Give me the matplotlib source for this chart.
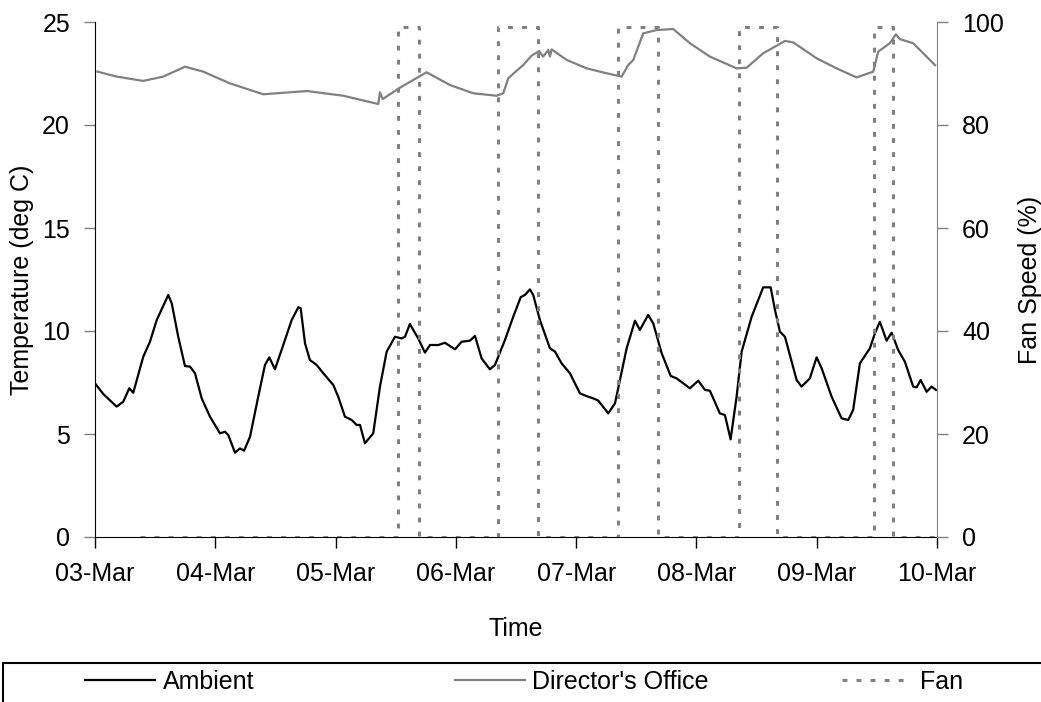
import matplotlib
matplotlib.use("Agg")
import matplotlib.pyplot as plt
from matplotlib.patches import Rectangle

plt.rcParams.update({
    "font.family": ["Liberation Sans", "DejaVu Sans"],
    "font.size": 18,
})

GREY = "#808080"

# time in days after 03-Mar 00:00
amb_t = [0.000, 0.069, 0.180, 0.235, 0.285, 0.318, 0.401, 0.457, 0.513, 0.609,
         0.638, 0.692, 0.748, 0.790, 0.831, 0.887, 0.956, 1.039, 1.081, 1.108,
         1.164, 1.205, 1.239, 1.289, 1.357, 1.413, 1.449, 1.496, 1.565, 1.635,
         1.690, 1.710, 1.746, 1.787, 1.843, 1.898, 1.981, 2.022, 2.078, 2.134,
         2.175, 2.203, 2.244, 2.313, 2.369, 2.425, 2.494, 2.549, 2.577, 2.618,
         2.646, 2.687, 2.743, 2.785, 2.854, 2.909, 2.993, 3.048, 3.117, 3.159,
         3.214, 3.283, 3.325, 3.408, 3.477, 3.539, 3.574, 3.616, 3.643, 3.699,
         3.782, 3.824, 3.879, 3.948, 4.032, 4.087, 4.142, 4.184, 4.267, 4.323,
         4.420, 4.489, 4.530, 4.599, 4.641, 4.711, 4.786, 4.835, 4.946, 5.015,
         5.071, 5.112, 5.195, 5.237, 5.284, 5.334, 5.376, 5.459, 5.555, 5.617,
         5.653, 5.694, 5.736, 5.777, 5.833, 5.874, 5.943, 5.999, 6.041, 6.124,
         6.207, 6.262, 6.303, 6.359, 6.442, 6.484, 6.525, 6.581, 6.623, 6.677,
         6.733, 6.802, 6.831, 6.864, 6.914, 6.955, 6.991]
amb_temp = [7.46, 6.94, 6.33, 6.57, 7.22, 7.00, 8.75, 9.48, 10.53, 11.75,
            11.34, 9.72, 8.30, 8.27, 7.95, 6.73, 5.84, 5.03, 5.11, 4.95,
            4.09, 4.30, 4.19, 4.87, 6.81, 8.35, 8.72, 8.14, 9.32, 10.53,
            11.15, 11.10, 9.40, 8.59, 8.35, 7.95, 7.38, 6.81, 5.84, 5.68,
            5.44, 5.44, 4.55, 5.03, 7.30, 9.00, 9.72, 9.64, 9.72, 10.34,
            10.05, 9.64, 8.95, 9.32, 9.32, 9.43, 9.11, 9.48, 9.53, 9.76,
            8.67, 8.14, 8.35, 9.56, 10.69, 11.64, 11.75, 12.02, 11.75, 10.53,
            9.16, 9.00, 8.43, 7.95, 6.97, 6.84, 6.73, 6.62, 6.00, 6.49,
            9.16, 10.50, 10.05, 10.78, 10.37, 8.92, 7.82, 7.70, 7.22, 7.59,
            7.14, 7.10, 6.00, 5.92, 4.74, 6.81, 9.00, 10.69, 12.12, 12.12,
            11.02, 9.97, 9.72, 8.83, 7.62, 7.30, 7.70, 8.72, 8.19, 6.81,
            5.76, 5.68, 6.17, 8.43, 9.16, 9.89, 10.45, 9.53, 9.92, 9.08,
            8.51, 7.30, 7.27, 7.62, 7.05, 7.30, 7.14]

office_t = [0.020, 0.180, 0.401, 0.568, 0.748, 0.900, 1.122, 1.399, 1.760, 2.064,
            2.355, 2.369, 2.392, 2.535, 2.757, 2.951, 3.145, 3.339, 3.394, 3.436,
            3.491, 3.560, 3.630, 3.693, 3.726, 3.768, 3.782, 3.796, 3.921, 4.087,
            4.254, 4.378, 4.433, 4.475, 4.558, 4.669, 4.807, 4.946, 5.112, 5.334,
            5.417, 5.555, 5.736, 5.805, 5.999, 6.165, 6.332, 6.470, 6.511, 6.608,
            6.658, 6.692, 6.802, 6.983]
office_temp = [22.59, 22.35, 22.14, 22.35, 22.83, 22.59, 22.02, 21.49, 21.65, 21.42,
               21.02, 21.59, 21.26, 21.81, 22.56, 21.94, 21.54, 21.42, 21.54, 22.27,
               22.56, 22.91, 23.37, 23.59, 23.32, 23.64, 23.32, 23.67, 23.16, 22.75,
               22.51, 22.35, 22.91, 23.16, 24.45, 24.61, 24.66, 23.97, 23.32, 22.75,
               22.78, 23.48, 24.08, 24.01, 23.24, 22.75, 22.31, 22.59, 23.56, 23.97,
               24.40, 24.17, 23.97, 22.91]

# fan switches on/off (step profile)
fan_t = [0.374, 2.520, 2.520, 2.690, 2.690, 3.350, 3.350, 3.685, 3.685,
         4.350, 4.350, 4.680, 4.680, 5.356, 5.356, 5.670, 5.670,
         6.476, 6.476, 6.636, 6.636, 7.000]
fan_speed = [0, 0, 99, 99, 0, 0, 99, 99, 0,
             0, 99, 99, 0, 0, 99, 99, 0,
             0, 99, 99, 0, 0]

day_ticks = [0, 1, 2, 3, 4, 5, 6, 7]
day_labels = ["03-Mar", "04-Mar", "05-Mar", "06-Mar", "07-Mar", "08-Mar", "09-Mar", "10-Mar"]

fig = plt.figure(figsize=(10.41, 7.02), dpi=100)
ax = fig.add_axes([95/1041, 1 - 537/702, (937 - 95)/1041, (537 - 22)/702])
ax2 = ax.twinx()

l_amb, = ax.plot(amb_t, amb_temp, color="black", lw=1.6, label="Ambient")
l_off, = ax.plot(office_t, office_temp, color=GREY, lw=1.6, label="Director's Office")
l_fan, = ax2.plot(fan_t, fan_speed, color=GREY, lw=2.2, linestyle=(0, (1.6, 3.0)),
                  label="Fan")

ax.set_xlim(0, 7)
ax.set_ylim(0, 25)
ax2.set_ylim(0, 100)
ax.set_xticks(day_ticks)
ax.set_xticklabels(day_labels)
ax.set_yticks([0, 5, 10, 15, 20, 25])
ax2.set_yticks([0, 20, 40, 60, 80, 100])

for a in (ax, ax2):
    a.spines["top"].set_visible(False)
ax.spines["right"].set_visible(False)
ax2.spines["left"].set_visible(False)
ax2.spines["bottom"].set_visible(False)
ax2.spines["right"].set_color(GREY)
ax.spines["left"].set_color("black")
ax.spines["bottom"].set_color("black")

ax.tick_params(axis="x", direction="out", length=8, width=1, color="black", pad=10)
ax.tick_params(axis="y", direction="out", length=8, width=1, color=GREY, pad=10)
ax2.tick_params(axis="y", direction="out", length=8, width=1, color=GREY, pad=10)

ax.set_xlabel("Time", labelpad=22)
ax.set_ylabel("Temperature (deg C)", labelpad=6)
ax2.set_ylabel("Fan Speed (%)", labelpad=10)

# legend strip along the bottom
fig.patches.append(Rectangle((3/1041, -0.1), 1.1, 1 - 663/702 + 0.1,
                             transform=fig.transFigure, fill=False,
                             edgecolor="black", lw=1.5))
handle_x = [85, 455, 842]
for h, x in zip([l_amb, l_off, l_fan], handle_x):
    fig.legend(handles=[h], loc="center left", bbox_to_anchor=(x/1041, 1 - 682/702),
               frameon=False, borderpad=0, borderaxespad=0, handlelength=2.8,
               handletextpad=0.3)

fig.savefig("out.png", dpi=100)
